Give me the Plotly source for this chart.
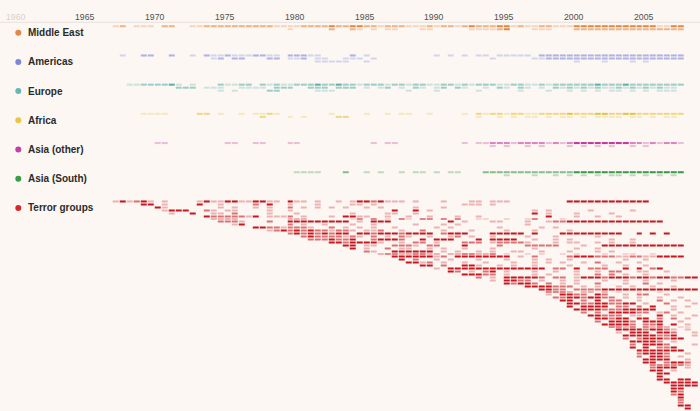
import numpy as np
import plotly.graph_objects as go

# ---------------- data ----------------
# one char per half-year, starting 1967.0 ('.' = none, 1 = few, 2 = some, 3 = many)
FIRST_YEAR = 1967.0
N_COLS = 84  # 1967.0 .. 2009.0 in half-years

tick_years = [1960, 1965, 1970, 1975, 1980, 1985, 1990, 1995, 2000, 2005]

region_names = ["Middle East", "Americas", "Europe", "Africa",
                "Asia (other)", "Asia (South)", "Terror groups"]

middle_east = [
    "12.111.2 2..11222 22222221 11122223 22332212 22111212 21232223 31211221 11333333 33333311 33..",
    "........ ........ ........ .1.....2 ..21.1.1 1...11.. ...11112 3...111. ..222222 22222222 22..",
]
americas = [
    ".1..22.. 2..1.211 21112211 .22211.. ..2.1... ......1. 1.1.11.1 1111.222 22222222 22222222 22..",
    "........ ......12 .22...22 .112.11. .111.1.. ........ ......1. ....1122 22222222 22222222 22..",
    "........ ........ ........ .....111 11..1... ........ ........ ........ ..1...1. ..1.1... ....",
]
europe = [
    "..112222 31.1...2 1122.212 11222322 32212221 22122112 21212221 12211212 22222322 23222222 22..",
    "........ .222.111 ..1111.2 22..222. 222.1.12 .1.21.12 .21..1.2 1.21.1.2 12121211 21212121 1...",
    "........ .......1 .1....22 .....111 ........ ..1...1. ....1... ..1...1. .1.1.1.1 1.1.1.11 1...",
]
africa = [
    "....1111 ....22.1 ..1.1121 .......1 ....1..1 .11..1.. ..1.2122 12211222 23222332 23322222 22..",
    "........ ........ .....2.. .1.1.... 22...... ........ ....1..1 .1.11.1. 11.1.111 1.11.1.1 1...",
]
asia_other = [
    "......11 ........ 11..11.. .11..... .....1.1 1....... ..1.1122 21222212 12333333 33221212 21..",
    "........ ........ ........ ........ ........ ........ ......1. 1..1.1.. .1.1.1.1 ..1.1... ....",
]
asia_south = [
    "........ ........ ........ ..1111.. .2..1.1. .1.11.1. 11...222 22222222 22333333 33333333 33..",
    "........ ........ ........ ........ ........ ........ ........ 1...1..1 .1.1.1.1 1.1.1.1. 1...",
]

# terror groups: first active half-year and activity pattern from there on
terror_start = [
    1967.0, 1969.0, 1970.0, 1970.5, 1971.0, 1973.5, 1974.0, 1974.5, 1975.5, 1977.0,
    1978.0, 1979.5, 1980.5, 1981.0, 1982.5, 1983.0, 1984.0, 1985.0, 1986.0, 1987.0,
    1987.5, 1988.0, 1989.0, 1990.0, 1991.0, 1992.0, 1993.0, 1994.0, 1995.0, 1996.5,
    1997.5, 1998.0, 1998.0, 1998.5, 1999.0, 1999.5, 1999.5, 2000.0, 2000.5, 2001.0,
    2001.5, 2001.5, 2002.0, 2002.5, 2003.0, 2003.0, 2003.5, 2003.5, 2004.0, 2004.0,
    2004.0, 2004.5, 2004.5, 2004.5, 2005.0, 2005.0, 2005.5, 2005.5, 2005.5, 2006.0,
    2006.0, 2006.0, 2006.5, 2007.0, 2007.0, 2007.0, 2007.0, 2007.5, 2007.5, 2007.5,
    2007.5, 2008.0,
]
terror_pattern = [
    "131231.1 ....1311 33113311 .311.1.. 1.133231 11.1...1 ...11.11 1....... .3333333 33333",
    "33.1.... 3..1.... 2.3..1.. .1....11 .1...... ......11 1.1.",
    "31...... .1.1..1. 1..2.1.1 .1.1..1. 1....1.. .1..",
    "1333..21 .11....1 ..1..... ........ .3..3.1. ........ .....1.1 .....1.. ...1",
    "1..3..11 .2....1. ..1..... ..1....1 1..1.... ........ ....3.1. ..1....1",
    "32222213 .1112.1. ..1.3311 ..1..1.. 1...1..1 ........ .3...1.. 1..1",
    "2222.... ...222.. ....13.3 .1.31.33 .3.3..11 ..1..13. ..1.",
    "2221...2 ..333333 333.1.33 3....... .3.1...1 1...1..1 22333333 33333333",
    "13...... 2.1..1.. .1..1... ..1...1. 1....... ..1.",
    "33221222 1..2.1.1 .1..1... ..1.1... ...1.... .1.1",
    "12323232 21221.11 2..1..2. .1...1.. ..1...1. ...1",
    "23232323 3.332333 23333.23 33...333 33.3...3 33333333 ..3.3.3.",
    "23222212 1.2.1.21 ..1..12. 1..1.... 1...1... ..1.",
    "2223223. .23332.. 3.333... 3.3333.. 1..1.1.. ...1..1.",
    "33233331 ..1.22.1 ...222.1 22221... 1.11..1. 1..1",
    ".33.11.. 2221.22. ..3....2 ...22222 ...1..33 33333333 33",
    "3.1..2.1 1..1.1.. 1...1... ..1..... 1..1",
    "21..3333 33.1.1.. 1.1..11. .1...1.. .1.1",
    "23322332 2.223322 3.1..1.1 ..1.1... 1..11..1",
    "333333 12.33333 333.1.2. ...23332 22112211 3333",
    "3.2..1.1 ...1...1 ...1.1.. 1....... 1..1",
    "3312.1.. 1..1...1 ..1.1.1. .1.2..1. .1..",
    "33.2..33 1..1.1.. 1....1.. ..1..1.. 1...",
    "1.333333 33333333 .22.3.22 2..3.3.2 3...",
    "32.1.23. 1...1..1 ..1..1.2 2..11..1",
    "33322.1. ..1.1... 1..2.2.1 ..1.",
    "2.1.3333 32.22.13 33233323 32332233",
    "1.3322.1 ..1.1... 1..1..1. ..1.",
    "32332.2. 1.1..2.. .1..2.1.",
    "3333222. 1.1..1.1 ..1..1..",
    "3322.222 23333333 3333333",
    "3332.22. 2.1..1.. 1...",
    "1.3322.3 2..1.22. .1..",
    "22332332 2.1.1..1 ..1.",
    "33.2.3.2 2..1..2. 1.1.",
    "33223322 33.1..2. ..1",
    "3.3333.2 2.2.3..1 .1",
    "33332223 3333..1.",
    "2.2.3333 22.12.1.",
    "33222.11 ..3.1..1",
    "33233.33 .2.2.1.",
    "2.3332.3 33..1..",
    "33332.22 3.3.1.",
    "3323.323 2.11.",
    "33332332 1.1.",
    "1.333.33 2..1",
    "33333223 ..1",
    "2.233323 3..",
    "33332.1.",
    "2.3332.. .1",
    "3.3.223.",
    "3333333.",
    "23332..1",
    "2.332.1",
    "3333..1",
    "33.2332",
    "333332.",
    "2333.1",
    "33.1..",
    "33..",
    "3...",
    "33.33",
    "33333",
    "3333",
    "33",
    "32",
    "23",
    "3",
    "3",
    "2",
    "33",
    "3",
]

# ---------------- styling / layout ----------------
W, H = 700, 411
BG = "#fcf7f3"
PX_1960 = 15.0
PX_PER_YEAR = 13.96
ROW_H = 2.92
GROUP_Y0 = 26.7
GROUP_STEP = 29.2

region_colors = ["#e2873f", "#7c84d8", "#5db1a9", "#e7c245", "#c2389f", "#379845", "#c8161f"]
dot_colors = ["#e08a48", "#7f86d8", "#6cb5b0", "#e8c64e", "#c23fa5", "#3d9a49", "#d42a2a"]


def hex2rgb(h):
    h = h.lstrip("#")
    return tuple(int(h[i:i + 2], 16) for i in (0, 2, 4))


def blend(c, a):
    r1, g1, b1 = hex2rgb(c)
    r0, g0, b0 = hex2rgb(BG)
    return "rgb(%d,%d,%d)" % (r0 + (r1 - r0) * a, g0 + (g1 - g0) * a, b0 + (b1 - b0) * a)


def parse(s):
    s = s.replace(" ", "")
    return [np.nan if ch == "." else float(ch) for ch in s]


def grid_from_rows(rows):
    z = np.full((len(rows), N_COLS), np.nan)
    for i, s in enumerate(rows):
        v = parse(s)[:N_COLS]
        z[i, :len(v)] = v
    return z


def grid_from_starts(starts, patterns):
    z = np.full((len(patterns), N_COLS), np.nan)
    for i, (st, p) in enumerate(zip(starts, patterns)):
        c0 = int(round((st - FIRST_YEAR) * 2))
        v = parse(p)
        for j, val in enumerate(v):
            if 0 <= c0 + j < N_COLS:
                z[i, c0 + j] = val
    return z


def px_to_year(px):
    return 1960 + (px - PX_1960) / PX_PER_YEAR


grids = [grid_from_rows(middle_east), grid_from_rows(americas), grid_from_rows(europe),
         grid_from_rows(africa), grid_from_rows(asia_other), grid_from_rows(asia_south),
         grid_from_starts(terror_start, terror_pattern)]

fig = go.Figure()
for r, (z, col) in enumerate(zip(grids, region_colors)):
    cs = [[0.0, blend(col, 0.30)], [0.5, blend(col, 0.60)], [1.0, col]]
    fig.add_trace(go.Heatmap(
        z=z, x0=FIRST_YEAR + 0.25, dx=0.5,
        y0=GROUP_Y0 + GROUP_STEP * r, dy=ROW_H,
        zmin=1, zmax=3, colorscale=cs, showscale=False,
        xgap=1, ygap=1, hoverinfo="skip"))

# legend dots (pixel axis)
label_y = [GROUP_Y0 + GROUP_STEP * r + 6.0 for r in range(len(region_names))]
fig.add_trace(go.Scatter(
    x=[18.3] * len(region_names), y=label_y, xaxis="x2", mode="markers",
    marker=dict(size=6, color=dot_colors), hoverinfo="skip", showlegend=False))

annotations = []
for name, yy in zip(region_names, label_y):
    annotations.append(dict(x=26, y=yy, xref="x2", yref="y", text="<b>%s</b>" % name,
                            showarrow=False, xanchor="left", yanchor="middle",
                            font=dict(family="Liberation Sans, Arial, sans-serif", size=10, color="#2b2b2b")))
for yr in tick_years:
    annotations.append(dict(x=yr, y=16.8, xref="x", yref="y", text=str(yr), showarrow=False,
                            xanchor="center", yanchor="middle",
                            font=dict(family="Liberation Sans, Arial, sans-serif", size=8.7,
                                      color="#d6d1cc" if yr == 1960 else "#505050")))

fig.update_layout(
    width=W, height=H, margin=dict(l=0, r=0, t=0, b=0),
    paper_bgcolor=BG, plot_bgcolor=BG, showlegend=False,
    xaxis=dict(range=[px_to_year(0), px_to_year(W)], visible=False, fixedrange=True),
    xaxis2=dict(range=[0, W], overlaying="x", visible=False, fixedrange=True),
    yaxis=dict(range=[H, 0], visible=False, fixedrange=True),
    annotations=annotations,
    shapes=[dict(type="line", xref="paper", yref="y", x0=0, x1=1, y0=22.3, y1=22.3,
                 line=dict(color="#e6e1dc", width=1))],
)

fig.write_html("out.html", config={"displayModeBar": False},
               post_script="document.body.style.margin='0';"
                           "document.body.style.background='%s';"
                           "document.documentElement.style.overflow='hidden';" % BG)
